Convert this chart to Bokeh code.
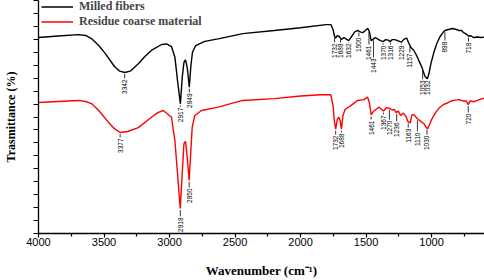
import numpy as np
from bokeh.plotting import figure
from bokeh.models import Range1d, FixedTicker, Legend, LegendItem
from bokeh.core.properties import value
from bokeh.embed import file_html
from bokeh.resources import INLINE

# ---- data ----
wn_black = [4000, 3850, 3695, 3640, 3596, 3540, 3490, 3420, 3380, 3342, 3300, 3238, 3190, 3139,
            3060, 3023, 2985, 2959, 2939, 2917, 2903, 2890, 2878, 2865, 2849, 2838, 2825, 2800,
            2731, 2629, 2441, 2200, 2000, 1806, 1769, 1752, 1740, 1732, 1720, 1705, 1688, 1670,
            1650, 1632, 1610, 1585, 1563, 1540, 1525, 1505, 1487, 1475, 1461, 1450, 1430, 1410,
            1390, 1370, 1350, 1330, 1316, 1300, 1280, 1260, 1240, 1229, 1210, 1190, 1175, 1157,
            1135, 1110, 1090, 1070, 1053, 1042, 1032, 1020, 1005, 985, 960, 935, 910, 898, 870,
            840, 810, 790, 770, 756, 740, 718, 700, 680, 650, 620, 596]
tr_black = [75.7, 76.3, 76.8, 76.5, 75.3, 72.6, 69.5, 64.5, 62.7, 62.2, 62.7, 65.6, 68.3, 70.7,
            73.0, 73.2, 72.2, 68.1, 59.1, 50.1, 60.3, 66.1, 67.1, 64.2, 56.5, 64.2, 70.0, 72.6,
            74.2, 75.2, 77.2, 78.4, 79.5, 80.7, 80.7, 78.8, 76.1, 75.5, 76.4, 76.1, 74.9, 75.7,
            75.1, 74.5, 76.1, 78.0, 78.4, 77.8, 77.6, 78.4, 79.3, 78.0, 74.5, 74.9, 75.7, 75.1,
            74.5, 74.1, 74.9, 74.7, 74.1, 74.9, 74.9, 74.5, 74.1, 73.9, 75.1, 75.5, 73.7, 71.8,
            70.7, 68.3, 66.0, 63.7, 61.0, 60.2, 59.8, 61.8, 65.6, 69.5, 73.4, 76.1, 77.8, 78.4, 78.8,
            79.2, 78.8, 78.4, 78.4, 77.6, 77.2, 76.3, 76.4, 75.7, 75.9, 75.7, 75.9]

wn_red = [4000, 3850, 3695, 3640, 3596, 3540, 3470, 3420, 3377, 3320, 3238, 3150, 3090, 3048,
          2985, 2959, 2939, 2918, 2903, 2890, 2878, 2865, 2850, 2840, 2827, 2807, 2756, 2629,
          2441, 2200, 2000, 1845, 1769, 1752, 1742, 1732, 1720, 1708, 1698, 1688, 1676, 1660,
          1616, 1565, 1515, 1489, 1475, 1461, 1445, 1420, 1401, 1380, 1367, 1345, 1320, 1300,
          1285, 1270, 1255, 1236, 1215, 1195, 1180, 1163, 1150, 1135, 1110, 1085, 1060, 1040,
          1030, 1015, 1000, 970, 940, 910, 880, 850, 820, 790, 760, 735, 720, 705, 680, 650,
          625, 596]
tr_red = [50.6, 51.0, 51.4, 51.0, 50.2, 47.5, 43.2, 40.5, 39.0, 39.4, 40.9, 44.4, 46.7, 47.5,
          44.9, 35.9, 23.2, 9.7, 23.2, 34.7, 35.6, 29.5, 20.5, 29.5, 41.0, 45.6, 47.5, 48.8,
          51.4, 52.1, 53.1, 53.6, 53.6, 49.4, 43.6, 40.3, 44.0, 44.9, 43.6, 40.3, 45.6, 47.9,
          49.4, 51.4, 51.7, 52.7, 50.6, 45.8, 47.1, 48.1, 48.8, 47.9, 47.3, 48.6, 48.3, 47.7,
          47.9, 46.7, 47.3, 45.6, 46.5, 45.2, 43.2, 42.7, 45.8, 45.9, 44.4, 43.4, 42.5, 40.9,
          40.5, 42.1, 44.0, 46.7, 48.6, 49.8, 50.4, 51.2, 51.5, 51.7, 51.2, 51.2, 49.8, 51.2, 50.9, 51.4,
          51.9, 52.3]

series_names = ["Milled fibers", "Residue coarse material"]
x_title = "Wavenumber (cm\u207b\u00b9)"
y_title = "Trasmittance (%)"

black_peak_text = ["3342", "2917", "2849", "1732", "1688", "1632", "1500", "1461", "1443",
                   "1370", "1316", "1229", "1157", "1053", "1032", "898", "718"]
black_label_x = [3342, 2917, 2849, 1740, 1695, 1632, 1555, 1478, 1443, 1370, 1313, 1229, 1165,
                 1068, 1030, 898, 718]
black_text_top = [59.5, 48.6, 54.1, 73.4, 73.4, 73.4, 75.7, 72.6, 67.6, 72.6, 72.6, 72.6, 69.5,
                  59.1, 59.1, 74.1, 73.7]

red_peak_text = ["3377", "2918", "2850", "1732", "1688", "1461", "1367", "1270", "1236",
                 "1163", "1110", "1030", "720"]
red_label_x = [3377, 2918, 2850, 1732, 1688, 1461, 1367, 1322, 1266, 1178, 1108, 1035, 720]
red_text_top = [36.7, 6.2, 17.4, 37.8, 38.6, 43.6, 45.6, 43.6, 42.9, 40.5, 39.0, 37.8, 46.3]

x_major = [4000, 3500, 3000, 2500, 2000, 1500, 1000]
x_minor = [3750, 3250, 2750, 2250, 1750, 1250, 750]
y_ticks = list(range(0, 91, 5))

# ---- figure ----
p = figure(width=484, height=280, output_backend="svg", toolbar_location=None,
           x_range=Range1d(4000, 596), y_range=Range1d(0, 90),
           min_border_left=37, min_border_right=0, min_border_top=0, min_border_bottom=47)
p.outline_line_color = None
p.xgrid.visible = False
p.ygrid.visible = False
p.background_fill_color = "white"

rb = p.line(wn_black, tr_black, line_color="black", line_width=1.4)
rr = p.line(wn_red, tr_red, line_color="#ff0000", line_width=1.4)


def peak_labels(lx, txt, top, wn, tr):
    cy = np.interp(lx, wn[::-1], tr[::-1])
    p.segment(x0=lx, x1=lx, y0=list(cy - 0.6), y1=[t + 0.4 for t in top],
              line_color="black", line_width=0.8)
    p.text(x=lx, y=top, text=txt, angle=np.pi / 2, text_align="right",
           text_baseline="middle", text_font=value("Liberation Sans"),
           text_font_size=value("6.5px"), text_color="black")


peak_labels(black_label_x, black_peak_text, black_text_top, wn_black, tr_black)
peak_labels(red_label_x, red_peak_text, red_text_top, wn_red, tr_red)

legend = Legend(items=[LegendItem(label=series_names[0], renderers=[rb]),
                       LegendItem(label=series_names[1], renderers=[rr])],
                location=(3, 204))
legend.background_fill_alpha = 0
legend.border_line_color = None
legend.padding = 0
legend.spacing = 0
legend.margin = 0
legend.glyph_width = 32
legend.glyph_height = 15
legend.label_height = 15
legend.label_standoff = 6
legend.label_text_font = "Liberation Serif"
legend.label_text_font_style = "bold"
legend.label_text_font_size = "12px"
p.add_layout(legend)

xa = p.xaxis[0]
xa.ticker = FixedTicker(ticks=x_major, minor_ticks=x_minor)
xa.major_tick_in = 0
xa.major_tick_out = 4
xa.minor_tick_in = 0
xa.minor_tick_out = 3
xa.axis_line_width = 1.3
xa.major_tick_line_width = 1.2
xa.minor_tick_line_width = 1.2
xa.axis_line_color = "black"
xa.major_label_standoff = 0
xa.major_label_text_font = "Liberation Sans"
xa.major_label_text_font_size = "11px"
xa.major_label_text_color = "black"
xa.axis_label = x_title
xa.axis_label_text_font = "Liberation Serif"
xa.axis_label_text_font_style = "bold"
xa.axis_label_text_font_size = "13px"
xa.axis_label_text_color = "black"
xa.axis_label_standoff = 14

ya = p.yaxis[0]
# all y ticks are unlabeled: drawn as minor ticks
ya.ticker = FixedTicker(ticks=[], minor_ticks=y_ticks)
ya.major_tick_in = 0
ya.major_tick_out = 5
ya.minor_tick_in = 0
ya.minor_tick_out = 5
ya.axis_line_width = 1.3
ya.major_tick_line_width = 1.2
ya.minor_tick_line_width = 1.2
ya.axis_line_color = "black"
ya.major_label_standoff = 0
ya.axis_label = y_title
ya.axis_label_text_font = "Liberation Serif"
ya.axis_label_text_font_style = "bold"
ya.axis_label_text_font_size = "12px"
ya.axis_label_text_color = "black"
ya.axis_label_standoff = 16

open("out.html", "w").write(file_html(p, INLINE))
